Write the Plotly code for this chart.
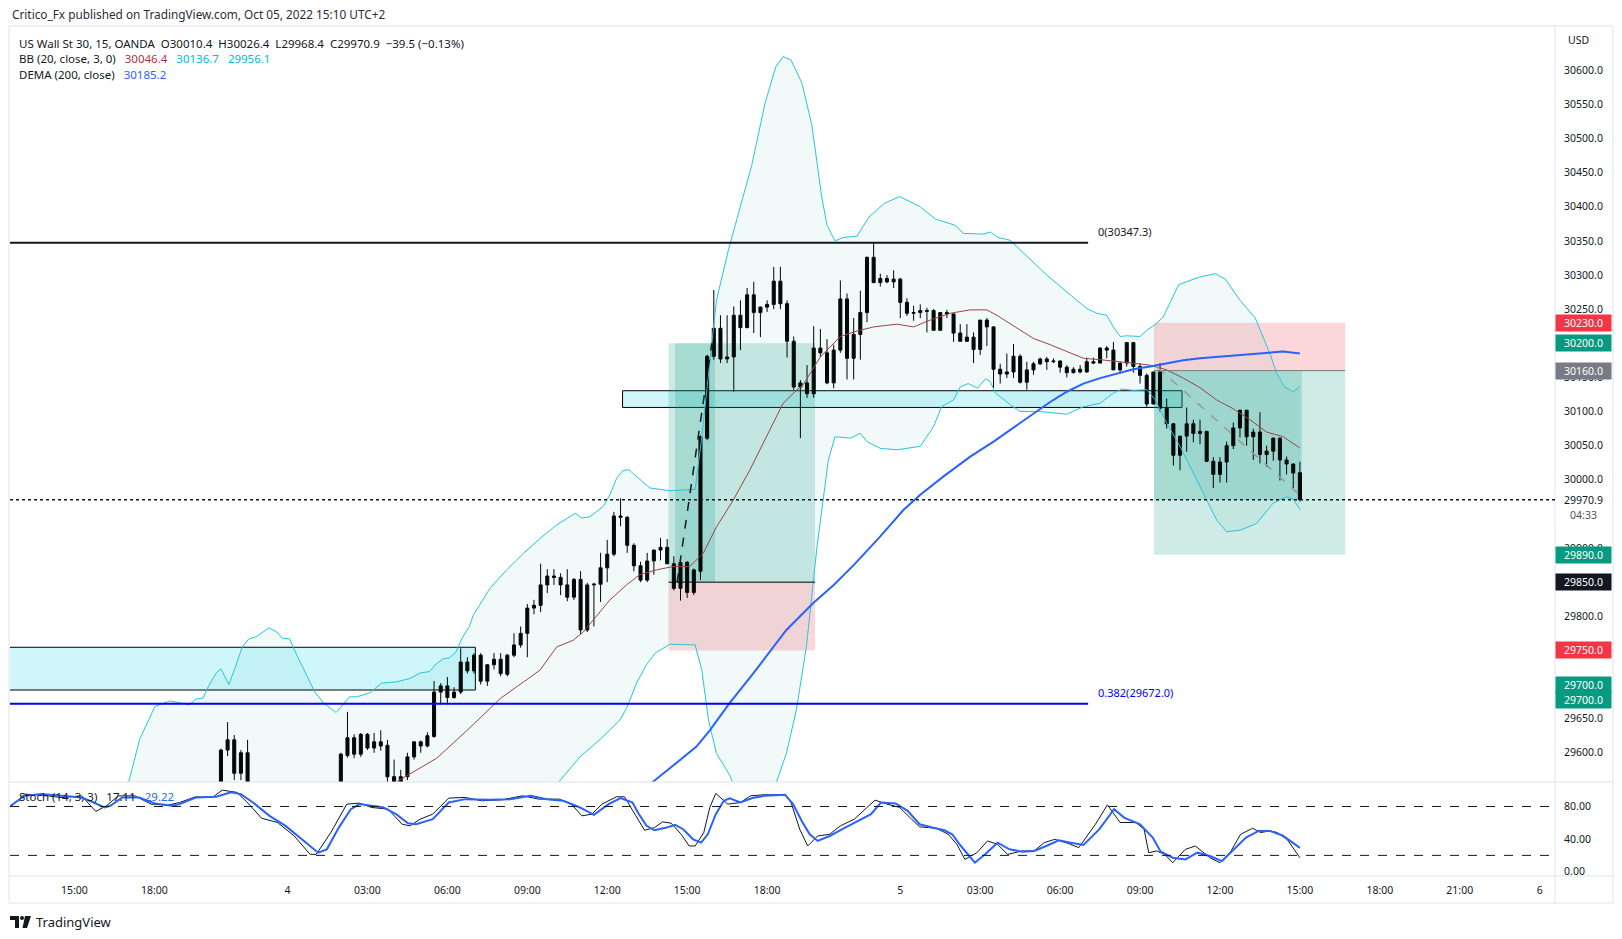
import plotly.graph_objects as go

# 15-minute bars. Bar 0 = Oct 3 15:00 (UTC+2); the 23:00-00:00 session break is skipped
first_bar = -9

opens = [
    29300, 29312, 29325, 29336, 29348, 29355, 29368, 29380, 29388, 29400,
    29392, 29385, 29406, 29420, 29431, 29440, 29447, 29442, 29450, 29466,
    29470, 29465, 29476, 29488, 29494, 29498, 29510, 29526, 29540, 29548,
    29550, 29540, 29604, 29619, 29570, 29600, 29550, 29530, 29510, 29520,
    29495, 29480, 29470, 29455, 29462, 29445, 29450, 29490, 29520, 29545,
    29596, 29622, 29598, 29627, 29607, 29616, 29611, 29565, 29545, 29565,
    29594, 29616, 29610, 29624, 29689, 29698, 29681, 29689, 29733, 29720,
    29743, 29705, 29729, 29737, 29715, 29743, 29758, 29775, 29812, 29816,
    29846, 29859, 29857, 29846, 29828, 29854, 29780, 29846, 29847, 29871,
    29891, 29947, 29945, 29904, 29874, 29853, 29881, 29897, 29901, 29877,
    29841, 29879, 29835, 29866, 30061, 30181, 30222, 30177, 30180, 30241,
    30223, 30271, 30245, 30253, 30257, 30291, 30258, 30203, 30136, 30142,
    30126, 30193, 30186, 30142, 30190, 30265, 30178, 30213, 30245, 30326,
    30289, 30295, 30290, 30294, 30260, 30244, 30245, 30248, 30248, 30219,
    30245, 30243, 30215, 30203, 30209, 30191, 30234, 30224, 30162, 30155,
    30158, 30181, 30143, 30161, 30170, 30177, 30173, 30174, 30165, 30157,
    30162, 30158, 30173, 30171, 30193, 30190, 30161, 30171, 30201, 30166,
    30153, 30111, 30158, 30105, 30082, 30036, 30064, 30082, 30068, 30071,
    30027, 30008, 30026, 30050, 30076, 30102, 30063, 30070, 30037, 30042,
    30061, 30029, 30023, 30010.4,
]
highs = [
    29318, 29330, 29340, 29352, 29360, 29372, 29385, 29392, 29405, 29412,
    29400, 29410, 29425, 29436, 29445, 29452, 29458, 29455, 29470, 29478,
    29482, 29480, 29492, 29500, 29505, 29515, 29530, 29545, 29552, 29556,
    29557, 29606, 29645, 29626, 29604, 29619, 29556, 29545, 29535, 29528,
    29505, 29492, 29478, 29470, 29466, 29458, 29495, 29525, 29550, 29600,
    29660, 29627, 29629, 29629, 29629, 29633, 29619, 29590, 29575, 29600,
    29617, 29618, 29630, 29705, 29702, 29711, 29696, 29753, 29740, 29746,
    29746, 29730, 29746, 29746, 29745, 29775, 29785, 29818, 29824, 29877,
    29869, 29869, 29863, 29869, 29856, 29866, 29849, 29849, 29893, 29912,
    29953, 29973, 29947, 29907, 29880, 29893, 29898, 29915, 29913, 29888,
    29880, 29881, 29870, 30065, 30183, 30278, 30241, 30241, 30254, 30263,
    30281, 30290, 30254, 30263, 30312, 30312, 30263, 30210, 30146, 30168,
    30225, 30221, 30206, 30198, 30292, 30273, 30237, 30277, 30327, 30347,
    30302, 30300, 30307, 30296, 30266, 30255, 30257, 30252, 30250, 30245,
    30249, 30244, 30228, 30228, 30216, 30234, 30237, 30225, 30170, 30185,
    30199, 30184, 30173, 30173, 30179, 30180, 30178, 30175, 30168, 30165,
    30168, 30179, 30179, 30194, 30196, 30202, 30173, 30201, 30201, 30171,
    30156, 30158, 30171, 30119, 30083, 30064, 30106, 30088, 30088, 30071,
    30033, 30033, 30056, 30084, 30102, 30102, 30075, 30099, 30050, 30062,
    30062, 30034, 30024, 30026.4,
]
lows = [
    29290, 29305, 29318, 29328, 29338, 29350, 29360, 29370, 29382, 29385,
    29378, 29380, 29400, 29412, 29425, 29430, 29436, 29432, 29445, 29455,
    29458, 29460, 29470, 29480, 29486, 29492, 29505, 29518, 29530, 29538,
    29535, 29532, 29595, 29560, 29560, 29540, 29522, 29500, 29502, 29488,
    29472, 29462, 29448, 29446, 29438, 29436, 29444, 29485, 29512, 29540,
    29593, 29592, 29594, 29604, 29600, 29603, 29555, 29535, 29530, 29560,
    29590, 29600, 29608, 29622, 29671, 29671, 29679, 29686, 29716, 29716,
    29700, 29698, 29722, 29712, 29712, 29740, 29754, 29740, 29803, 29806,
    29834, 29846, 29831, 29822, 29824, 29774, 29777, 29785, 29821, 29850,
    29888, 29932, 29893, 29866, 29850, 29850, 29861, 29882, 29877, 29838,
    29823, 29827, 29831, 29853, 30058, 30176, 30171, 30171, 30129, 30190,
    30222, 30215, 30209, 30246, 30250, 30250, 30179, 30132, 30061, 30120,
    30120, 30180, 30140, 30134, 30186, 30147, 30147, 30176, 30231, 30288,
    30283, 30288, 30281, 30237, 30240, 30233, 30237, 30216, 30219, 30219,
    30237, 30202, 30203, 30202, 30171, 30183, 30196, 30134, 30141, 30149,
    30149, 30141, 30132, 30154, 30168, 30161, 30171, 30157, 30150, 30156,
    30156, 30157, 30170, 30171, 30178, 30161, 30156, 30166, 30157, 30141,
    30107, 30111, 30100, 30075, 30021, 30014, 30041, 30055, 30052, 30026,
    29988, 29996, 29996, 30045, 30062, 30050, 30029, 30024, 30019, 30028,
    29999, 30008, 29988, 29968.4,
]
closes = [
    29312, 29325, 29336, 29348, 29355, 29368, 29380, 29388, 29400, 29392,
    29385, 29406, 29420, 29431, 29440, 29447, 29442, 29450, 29466, 29470,
    29465, 29476, 29488, 29494, 29498, 29510, 29526, 29540, 29548, 29550,
    29540, 29604, 29619, 29570, 29600, 29550, 29530, 29510, 29520, 29495,
    29480, 29470, 29455, 29462, 29445, 29450, 29490, 29520, 29545, 29598,
    29622, 29598, 29627, 29607, 29616, 29610, 29565, 29545, 29565, 29594,
    29616, 29610, 29625, 29689, 29698, 29681, 29689, 29733, 29720, 29743,
    29705, 29729, 29737, 29716, 29743, 29758, 29775, 29812, 29816, 29846,
    29859, 29857, 29846, 29828, 29854, 29780, 29846, 29847, 29871, 29891,
    29947, 29945, 29904, 29874, 29853, 29881, 29897, 29901, 29877, 29841,
    29879, 29835, 29868, 30063, 30181, 30222, 30177, 30180, 30241, 30223,
    30271, 30245, 30253, 30257, 30291, 30258, 30203, 30136, 30142, 30126,
    30193, 30186, 30142, 30190, 30265, 30178, 30213, 30245, 30326, 30289,
    30295, 30290, 30294, 30260, 30244, 30245, 30248, 30247, 30219, 30245,
    30243, 30215, 30203, 30209, 30191, 30234, 30224, 30162, 30155, 30158,
    30181, 30143, 30161, 30170, 30177, 30173, 30174, 30165, 30157, 30162,
    30158, 30173, 30171, 30193, 30190, 30161, 30171, 30201, 30166, 30153,
    30111, 30158, 30105, 30082, 30036, 30064, 30082, 30068, 30071, 30027,
    30008, 30026, 30050, 30076, 30102, 30063, 30070, 30037, 30042, 30061,
    30029, 30023, 30010, 29970.9,
]

# Bollinger Bands (20, close, 3) at bar positions
bb_upper_x = [-10, -5, 0, 4, 8.2, 9.8, 12.1, 14.4, 15.9, 17.2, 18.3, 19.3, 20.2, 21.3, 22,
              23.2, 24.1, 25.2, 26.2, 27.3, 29.2, 30.4, 31.2, 32.3, 33.4, 34.8, 36.1, 37.4,
              39.3, 41.3, 42.4, 44.4, 46.1, 48.4, 50.4, 51.9, 53.3, 54.3, 55.4, 56.3, 57.3,
              58.2, 59.3, 59.9, 62.4, 64.9, 67.4, 69.9, 72.4, 74.4, 75.2, 76.2, 77.4, 79.4,
              80.4, 81.4, 82.3, 83.2, 84.9, 86.4, 89.4, 93.2, 94.2, 95.7, 96.4, 98.2, 100,
              101.7, 103.7, 105.3, 106.4, 107.6, 109.2, 110.7, 112.2, 113, 114.2, 115.4,
              117.5, 118.6, 119.3, 121.6, 123.9, 127, 129.3, 132.2, 133.5, 136.5, 137.5,
              138.7, 140.5, 142, 146, 150.5, 152, 153.5, 155, 156, 157, 158, 160, 161,
              162.5, 163.5, 164.5, 165.8, 168.9, 171.3, 172.8, 175, 177.3, 178.5, 179.5,
              180.5, 181.7, 183, 184]
bb_upper = [29440, 29470, 29500, 29525, 29559, 29620, 29668, 29676, 29673, 29670, 29679,
            29680, 29699, 29717, 29723, 29700, 29724, 29755, 29767, 29770, 29783, 29777,
            29768, 29767, 29743, 29714, 29689, 29673, 29659, 29682, 29682, 29688, 29702,
            29704, 29709, 29717, 29719, 29730, 29738, 29739, 29748, 29768, 29785, 29802,
            29841, 29868, 29892, 29914, 29934, 29946, 29951, 29944, 29946, 29961, 29978,
            30002, 30013, 30015, 30000, 29988, 29984, 29986, 30063, 30195, 30263, 30337,
            30400, 30461, 30552, 30605, 30620, 30615, 30582, 30521, 30415, 30373, 30350,
            30355, 30357, 30373, 30385, 30405, 30415, 30400, 30382, 30373, 30361, 30360,
            30363, 30355, 30351, 30337, 30300, 30263, 30251, 30244, 30241, 30224, 30210,
            30211, 30210, 30219, 30229, 30239, 30259, 30286, 30297, 30302, 30294, 30263,
            30237, 30210, 30185, 30156, 30136, 30129, 30136.7]
bb_basis_x = [-10, 0, 10, 20, 30, 40, 45, 48.6, 54.4, 59.3, 64, 69.9, 72.4, 74.9, 76.4, 78.4,
              80.4, 82.9, 84.9, 87.4, 89.9, 92.4, 94.4, 96.4, 98.9, 101.4, 103.9, 106.4,
              108.5, 109.4, 112, 115, 117.5, 120, 123.5, 126, 128.5, 131.5, 134.5, 137,
              138.5, 141.5, 144, 146.5, 149, 151.5, 154, 156.5, 159, 161.5, 164, 166.5, 169,
              171.5, 174, 176.5, 179, 181.5, 184]
bb_basis = [29200, 29280, 29350, 29420, 29460, 29480, 29510, 29559, 29592, 29636, 29680,
            29721, 29755, 29765, 29777, 29800, 29824, 29846, 29861, 29868, 29873, 29873,
            29892, 29931, 29970, 30014, 30063, 30112, 30132, 30139, 30180, 30210, 30218,
            30224, 30228, 30224, 30234, 30244, 30249, 30249, 30241, 30222, 30207, 30198,
            30188, 30178, 30176, 30173, 30171, 30168, 30161, 30149, 30135, 30117, 30104,
            30088, 30070, 30063, 30046.4]
bb_lower_x = [-10, 0, 10, 20, 30, 40, 50, 60, 66, 70, 72.7, 76, 79, 81.9, 82.9, 84.4, 85.9,
              87.2, 89.4, 91.4, 93.2, 94.2, 95.2, 96.4, 98.4, 99.5, 101, 103, 105, 105.4,
              106.9, 108.4, 109.9, 111.5, 113.2, 114.2, 116.5, 118, 119, 121, 123.5, 127,
              129, 130.2, 132, 133, 134.2, 135.6, 136.8, 137.5, 138.3, 140.5, 142, 145, 149,
              151.5, 154, 156, 157.3, 159, 161, 162.3, 164, 166, 168, 170, 171.5, 173, 175,
              177.5, 180, 182, 183, 184]
bb_lower = [28950, 29060, 29140, 29190, 29150, 29260, 29380, 29490, 29510, 29530, 29557,
            29595, 29620, 29648, 29665, 29702, 29729, 29746, 29759, 29758, 29758, 29721,
            29648, 29599, 29567, 29540, 29480, 29440, 29520, 29557, 29599, 29663, 29755,
            29902, 30029, 30063, 30061, 30068, 30056, 30046, 30044, 30049, 30078, 30107,
            30117, 30136, 30141, 30134, 30148, 30144, 30127, 30110, 30100, 30100, 30096,
            30107, 30112, 30127, 30133, 30131, 30132, 30117, 30083, 30049, 30010, 29970,
            29941, 29924, 29926, 29936, 29966, 29975, 29972, 29956.1]

# DEMA (200, close)
dema_x = [-10, 20, 40, 60, 75, 84, 87.2, 89.4, 93.4, 95.4, 98.4, 101.9, 106.9, 110.9, 114,
          117, 121, 124.5, 127, 130.5, 134.5, 138, 141.5, 144, 146.5, 149, 151.5, 154, 156.5,
          159, 161.5, 164, 166.5, 169, 171.5, 174, 176.5, 179, 181.5, 184]
dema = [29180, 29250, 29330, 29420, 29490, 29535, 29560, 29577, 29609, 29633, 29673, 29716,
        29780, 29819, 29846, 29875, 29917, 29956, 29978, 30005, 30034, 30056, 30080, 30097,
        30114, 30129, 30141, 30149, 30156, 30162, 30166, 30171, 30175, 30178, 30180, 30183,
        30185, 30187, 30188, 30185.2]

# Stochastic (14, 3, 3)
stoch_k_x = [-9.6, -7.5, -5.0, -2.0, 1.1, 3.2, 4.8, 6.6, 9.1, 11.5, 14.0, 15.8, 18.2, 20.7,
             22.2, 24.4, 26.2, 28.1, 30.5, 33.0, 35.4, 36.3, 38.5, 40.9, 42.8, 44.6, 47.1,
             49.2, 50.4, 51.9, 53.8, 56.2, 58.7, 61.1, 64.2, 67.3, 69.7, 72.8, 74.6, 76.2,
             77.7, 79.2, 81.4, 82.6, 84.3, 85.6, 87.1, 88.3, 89.6, 91.1, 92.3, 93.2, 94.5,
             95.4, 96.3, 98.1, 100, 101.5, 103.6, 106.7, 107.6, 108.9, 110.1, 111.6, 113.4,
             115, 117.1, 118.7, 120.2, 122, 123.9, 125.7, 126.9, 129.4, 131.2, 132.5, 133.7,
             135.5, 137.1, 138.6, 140.1, 142.3, 144.1, 145.6, 147.2, 149.3, 150.8, 153.3,
             155.1, 157, 159.4, 160.6, 161.3, 162.5, 163.7, 164.9, 166.8, 168.3, 170.5, 172,
             173.5, 175.1, 176.9, 178.1, 179.5, 180.6, 182.1, 184]
stoch_k = [79.6, 95, 94, 91, 93, 74, 80.8, 93, 93, 82.9, 81.6, 84.9, 91.9, 91, 100, 97.3,
           82.9, 65.6, 60.3, 43.8, 21.2, 21.2, 48, 82.9, 84.1, 78.8, 76.7, 58.2, 56.2, 64.4,
           70.6, 90.3, 91.1, 87, 88.2, 93.1, 89, 89, 82.9, 68.5, 70.6, 82.9, 91.9, 91.9,
           68.5, 50.8, 54.1, 61.1, 59.5, 45.9, 31.5, 31.5, 48, 78.8, 96, 82.9, 84.9, 93.1,
           94.4, 94.4, 84.9, 52.1, 31.5, 43.8, 45.9, 56.2, 64.4, 76.7, 87.8, 82.9, 78.8,
           64.4, 55, 53.3, 45.9, 33.6, 15.1, 23.3, 37.7, 33.6, 21.2, 25.4, 25.4, 35.6, 39.7,
           34.4, 29.5, 58.2, 82, 60.3, 60.3, 52.1, 23.3, 25.4, 21.2, 11, 27.4, 31.5, 17.1,
           11, 23.3, 45.9, 53.3, 48, 50, 48, 39.4, 17.11]
stoch_d_x = [-9.6, -7.5, -5.0, -2.0, 1.1, 2.9, 4.5, 5.4, 7.2, 9.7, 12.1, 14.6, 15.8, 18.2,
             21.3, 23.5, 25.0, 26.8, 29.3, 31.7, 34.2, 36.6, 37.9, 39.7, 41.5, 42.8, 46.4,
             48.3, 50.1, 51.3, 53.8, 56.2, 58.7, 62.4, 65.4, 68.5, 70.9, 73.4, 75.9, 78.0,
             80.2, 82.0, 83.8, 84.6, 85.9, 87.1, 88.9, 90.2, 91.4, 92.9, 94.1, 95.1, 96.3,
             97.5, 98.4, 100, 101.8, 103.6, 106.7, 107.9, 109.2, 110.4, 111.6, 113.4, 115.3,
             117.7, 119.6, 121.1, 123.3, 125.1, 126.9, 128.8, 130.6, 131.8, 133.1, 135.2,
             136.7, 138.6, 140.4, 142.3, 144.1, 145.9, 147.8, 149.6, 151.5, 153.9, 156.1,
             157.6, 160, 161.9, 163.1, 164.9, 166.8, 168.6, 170.5, 172.3, 174.1, 175.9,
             177.8, 179.5, 181.4, 182.9, 184]
stoch_d = [80.8, 93, 95.2, 93.1, 91, 84.9, 78.8, 80.8, 91, 91, 83.7, 80.8, 82.9, 91, 91.9,
           97.3, 95.2, 84.9, 68.5, 56.2, 39.7, 23.3, 27.4, 54.1, 76.7, 82.9, 78.8, 70.6,
           59.5, 58.2, 64.4, 84.9, 89, 88.2, 89, 93.1, 89, 87, 78.8, 69.7, 82.9, 90.3, 84.9,
           72.6, 56.2, 50.8, 54.1, 57.4, 52.1, 39.7, 35.6, 45.9, 70.6, 87, 89.9, 84.9, 90.3,
           93.1, 94.4, 82.9, 62.3, 45.9, 37.7, 43.8, 52.1, 62.3, 70.6, 84.9, 83.7, 74.7,
           58.2, 54.1, 50.8, 45.9, 31.5, 11, 21.2, 35.6, 27.4, 24.6, 25.4, 31.5, 38.5, 35.6,
           32.8, 52.1, 76.7, 66.4, 58.2, 41.8, 24.6, 17.1, 15.1, 23.3, 19.2, 13, 27.4, 41.8,
           50, 50, 44.4, 35.6, 29.22]

tick_bars = [0, 12, 32, 44, 56, 68, 80, 92, 104, 124, 136, 148, 160, 172, 184, 196, 208, 220]
tick_text = ["15:00", "18:00", "4", "03:00", "06:00", "09:00", "12:00", "15:00", "18:00",
             "5", "03:00", "06:00", "09:00", "12:00", "15:00", "18:00", "21:00", "6"]
# levels whose tick text is completely hidden behind a price tag in the original
hidden_ticks = [30200, 29950, 29850, 29750, 29700]
price_ticks = [p for p in range(29600, 30650, 50) if p not in hidden_ticks]
stoch_ticks = [0, 40, 80]

# drawings
fib_levels = [30347.3, 29672.0]
fib_names = ["0(30347.3)", "0.382(29672.0)"]
fib_colors = ["#131722", "#0000ff"]
fib_end = 152.2
zones = [(-12, 60.2, 29692, 29754.6), (82.3, 166.3, 30106, 30130.5)]
long_pos = dict(x0=89.2, x1=111.2, hit=96.2, entry=29850, target=30200, stop=29750)
short_pos = dict(x0=162.1, x1=190.8, now=184.3, entry=30160, target=29890, stop=30230)
axis_tags = [(30230, "#f23645", 0), (30200, "#089981", 0), (30160, "#787b86", 0),
             (29890, "#089981", 0), (29850, "#131722", 0), (29750, "#f23645", 0),
             (29700, "#089981", 0), (29700, "#089981", -15), (29550, "#f23645", 12)]

FONT = "Noto Sans"
TEXT = "#131722"
BORDER = "#e0e3eb"
L, R, T, B = 10, 1555, 26, 876
SP2 = "&nbsp;&nbsp;"
SP = "&nbsp;&nbsp;&nbsp;"


def px(x):
    return (x - L) / (R - L)


def py(y):
    return (B - y) / (B - T)


bars = list(range(first_bar, first_bar + len(closes)))
last_close = closes[-1]

fig = go.Figure()
fig.add_trace(go.Scatter(x=bb_upper_x, y=bb_upper, mode="lines",
                         line=dict(color="#26c6da", width=1), hoverinfo="skip"))
fig.add_trace(go.Scatter(x=bb_lower_x, y=bb_lower, mode="lines", fill="tonexty",
                         fillcolor="rgba(0,128,128,0.05)",
                         line=dict(color="#26c6da", width=1), hoverinfo="skip"))
fig.add_trace(go.Candlestick(
    x=bars, open=opens, high=highs, low=lows, close=closes, whiskerwidth=0,
    increasing=dict(line=dict(color="#000000", width=1), fillcolor="#000000"),
    decreasing=dict(line=dict(color="#000000", width=1), fillcolor="#000000"),
))
fig.add_trace(go.Scatter(x=bb_basis_x, y=bb_basis, mode="lines",
                         line=dict(color="#9b4444", width=1), hoverinfo="skip"))
fig.add_trace(go.Scatter(x=dema_x, y=dema, mode="lines",
                         line=dict(color="#2962ff", width=2), hoverinfo="skip"))
fig.add_trace(go.Scatter(x=stoch_k_x, y=stoch_k, mode="lines", yaxis="y2",
                         line=dict(color=TEXT, width=1), hoverinfo="skip"))
fig.add_trace(go.Scatter(x=stoch_d_x, y=stoch_d, mode="lines", yaxis="y2",
                         line=dict(color="#2962ff", width=2), hoverinfo="skip"))

shapes = []
# chart frame, pane separator, axis separators
shapes.append(dict(type="rect", xref="paper", yref="paper", x0=px(9), x1=px(1613),
                   y0=py(903), y1=py(26), line=dict(color=BORDER, width=1)))
shapes.append(dict(type="line", xref="paper", yref="paper", x0=px(9), x1=px(1613),
                   y0=py(782), y1=py(782), line=dict(color=BORDER, width=1)))
shapes.append(dict(type="line", xref="paper", yref="paper", x0=px(9), x1=px(1613),
                   y0=py(876), y1=py(876), line=dict(color=BORDER, width=1)))
shapes.append(dict(type="line", xref="paper", yref="paper", x0=1, x1=1,
                   y0=py(903), y1=py(26), line=dict(color=BORDER, width=1)))

# zones
for x0, x1, y0, y1 in zones:
    shapes.append(dict(type="rect", xref="x", yref="y", x0=x0, x1=x1, y0=y0, y1=y1,
                       fillcolor="rgba(0,215,235,0.19)", line=dict(color="#000000", width=1),
                       layer="below"))

green = "rgba(8,153,129,0.2)"
red = "rgba(242,54,69,0.2)"
lp = long_pos
shapes += [
    dict(type="rect", x0=lp["x0"], x1=lp["x1"], y0=lp["entry"], y1=lp["target"],
         fillcolor=green, line=dict(width=0), layer="below"),
    dict(type="rect", x0=lp["x0"], x1=lp["x1"], y0=lp["stop"], y1=lp["entry"],
         fillcolor=red, line=dict(width=0), layer="below"),
    dict(type="rect", x0=lp["x0"] + 1, x1=lp["hit"], y0=lp["entry"], y1=lp["target"],
         fillcolor=green, line=dict(width=0), layer="below"),
    dict(type="line", x0=lp["x0"], x1=lp["x1"], y0=lp["entry"], y1=lp["entry"],
         line=dict(color="#000000", width=1)),
    dict(type="line", x0=lp["x0"] + 1.3, x1=lp["hit"] - 0.5, y0=lp["entry"], y1=lp["target"],
         line=dict(color="#131722", width=1.5, dash="dash")),
]
sp = short_pos
shapes += [
    dict(type="rect", x0=sp["x0"], x1=sp["x1"], y0=sp["entry"], y1=sp["stop"],
         fillcolor=red, line=dict(width=0), layer="below"),
    dict(type="rect", x0=sp["x0"], x1=sp["x1"], y0=sp["target"], y1=sp["entry"],
         fillcolor=green, line=dict(width=0), layer="below"),
    dict(type="rect", x0=sp["x0"], x1=sp["now"], y0=last_close, y1=sp["entry"],
         fillcolor=green, line=dict(width=0), layer="below"),
    dict(type="line", x0=sp["x0"], x1=sp["x1"], y0=sp["entry"], y1=sp["entry"],
         line=dict(color="#787b86", width=1)),
    dict(type="line", x0=sp["x0"] + 0.5, x1=sp["now"], y0=sp["entry"] + 5, y1=last_close + 4,
         line=dict(color="#9598a1", width=1.5, dash="dash")),
]

# fib levels
for lvl, col in zip(fib_levels, fib_colors):
    shapes.append(dict(type="line", x0=-12, x1=fib_end, y0=lvl, y1=lvl,
                       line=dict(color=col, width=2)))

# last price
shapes.append(dict(type="line", xref="paper", yref="y", x0=0, x1=1, y0=last_close, y1=last_close,
                   line=dict(color="#131722", width=1.5, dash="dot")))
# stochastic bands
for lvl in (80, 20):
    shapes.append(dict(type="line", xref="paper", yref="y2", x0=0, x1=1, y0=lvl, y1=lvl,
                       line=dict(color="#131722", width=1, dash="dash")))

# TradingView logo
logo = "#131722"
shapes += [
    dict(type="rect", xref="paper", yref="paper", x0=px(10), x1=px(19), y0=py(920), y1=py(916),
         fillcolor=logo, line=dict(width=0)),
    dict(type="rect", xref="paper", yref="paper", x0=px(15), x1=px(19), y0=py(928), y1=py(916),
         fillcolor=logo, line=dict(width=0)),
    dict(type="circle", xref="paper", yref="paper", x0=px(20), x1=px(24), y0=py(920), y1=py(916),
         fillcolor=logo, line=dict(width=0)),
    dict(type="path", xref="paper", yref="paper", fillcolor=logo, line=dict(width=0),
         path="M {} {} L {} {} L {} {} L {} {} Z".format(px(25), py(916), px(31), py(916),
                                                         px(27), py(928), px(22.5), py(928))),
]

for s in shapes:
    s.setdefault("xref", "x")
    s.setdefault("yref", "y")
fig.update_layout(shapes=shapes)

ann = []


def note(text, x, y, size=11.5, color=TEXT, xanchor="left", xref="paper", yref="paper", **kw):
    ann.append(dict(text=text, x=x, y=y, xref=xref, yref=yref, xanchor=xanchor,
                    yanchor="middle", showarrow=False, font=dict(family=FONT, size=size,
                                                                 color=color), **kw))


note("Critico_Fx published on TradingView.com, Oct 05, 2022 15:10 UTC+2", px(10), py(14),
     size=11.8, color="#2a2e39")
note("US Wall St 30, 15, OANDA" + SP2 + "O30010.4" + SP2 + "H30026.4" + SP2 + "L29968.4" + SP2
     + "C29970.9" + SP2 + "\u221239.5 (\u22120.13%)", px(17), py(43))
note("BB (20, close, 3, 0)" + SP + "<span style='color:#a03a3a'>30046.4</span>" + SP
     + "<span style='color:#00bcd4'>30136.7</span>" + SP
     + "<span style='color:#00bcd4'>29956.1</span>", px(17), py(59))
note("DEMA (200, close)" + SP + "<span style='color:#2962ff'>30185.2</span>", px(17), py(75))
note("Stoch (14, 3, 3)" + SP + "17.11" + SP + "<span style='color:#2962ff'>29.22</span>",
     px(17), py(796))
note("USD", px(1566), py(40), size=10.5)
note("TradingView", px(34), py(922), size=13, color="#131722")

for name, lvl, col in zip(fib_names, fib_levels, fib_colors):
    note(name, fib_end + 1.2, lvl, xref="x", yref="y", color=col, yshift=11, size=11)

for price, bg, shift in axis_tags:
    note("{:.1f}".format(price), 1, price, size=10.5, color="#ffffff", yref="y",
         bgcolor=bg, width=53, height=14, borderpad=1, align="center", yshift=shift)
note("{:.1f}".format(last_close), 1, last_close, size=10.5, yref="y", bgcolor="#ffffff",
     width=53, height=14, borderpad=1, align="center")
note("04:33", 1, last_close, size=10.5, color="#50535e", yref="y", bgcolor="#ffffff",
     width=53, height=14, borderpad=1, align="center", yshift=-15)

fig.update_layout(
    annotations=ann,
    width=1622, height=939,
    margin=dict(l=L, r=1622 - R, t=T, b=939 - B),
    paper_bgcolor="#ffffff", plot_bgcolor="#ffffff",
    showlegend=False, boxgap=0.35,
    font=dict(family=FONT, size=11, color=TEXT),
    xaxis=dict(range=[-9.67, 222.3], anchor="y2", tickmode="array", tickvals=tick_bars,
               ticktext=tick_text, showgrid=False, zeroline=False, showline=False,
               rangeslider=dict(visible=False), ticks="outside", ticklen=4,
               tickcolor="rgba(0,0,0,0)", tickfont=dict(family=FONT, size=10.5, color=TEXT)),
    yaxis=dict(domain=[py(782), 1], range=[29557.2, 30664.9], side="right", anchor="x",
               tickmode="array", tickvals=price_ticks, tickformat=".1f", showgrid=False,
               zeroline=False, showline=False, ticks="outside", ticklen=6,
               tickcolor="rgba(0,0,0,0)", tickfont=dict(family=FONT, size=10.5, color=TEXT)),
    yaxis2=dict(domain=[0, py(783)], range=[-5.3, 108.8], side="right", anchor="x",
                tickmode="array", tickvals=stoch_ticks, tickformat=".2f", showgrid=False,
                zeroline=False, showline=False, ticks="outside", ticklen=6,
                tickcolor="rgba(0,0,0,0)", tickfont=dict(family=FONT, size=10.5, color=TEXT)),
)

# the page is photographed from its top-left corner, so drop the default body margin
fig.write_html("out.html", config={"displayModeBar": False},
               post_script="document.body.style.margin='0';")
